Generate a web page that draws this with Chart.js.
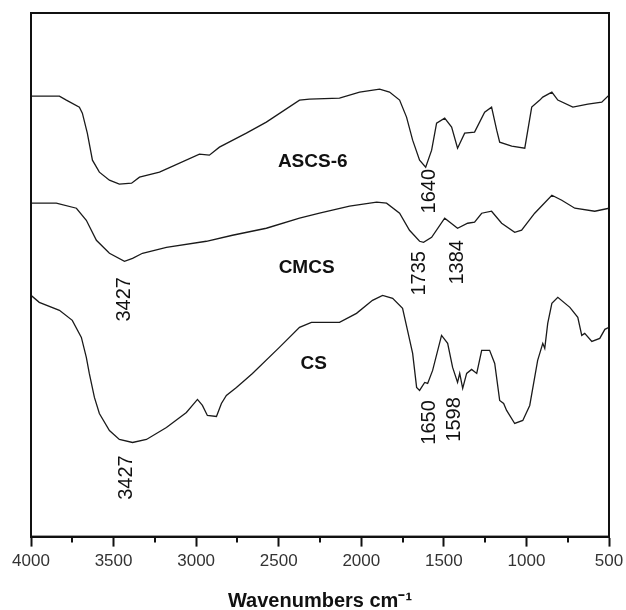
<!DOCTYPE html>
<html>
<head>
<meta charset="utf-8">
<script src="https://cdn.jsdelivr.net/npm/chart.js@4.4.1/dist/chart.umd.min.js"></script>
<style>
  body { margin: 0; background: #fff; }
  canvas { display: block; }
</style>
</head>
<body>
<canvas id="ftir" width="626" height="610"></canvas>
<script>
// wavenumbers (cm-1) and transmittance (a.u.)
let ascsWave = [4000, 3828, 3786, 3707, 3689, 3659, 3628, 3586, 3525, 3465, 3391, 3343, 3222, 2980, 2920, 2859, 2696, 2575, 2374, 2314, 2132, 2010, 1889, 1829, 1768, 1726, 1689, 1647, 1610, 1574, 1544, 1495, 1453, 1417, 1374, 1314, 1253, 1211, 1180, 1162, 1089, 1010, 968, 919, 901, 846, 810, 719, 628, 544, 500];
let ascsT = [440, 440, 436, 429, 423, 403, 376, 364, 356, 352, 353, 359, 364, 382, 381, 389, 403, 414, 436, 437, 438, 444, 447, 444, 436, 419, 396, 376, 369, 386, 413, 418, 409, 388, 403, 404, 424, 429, 406, 394, 390, 388, 429, 436, 439, 444, 436, 429, 432, 434, 441];

let cmcsWave = [4000, 3847, 3725, 3665, 3604, 3525, 3434, 3385, 3325, 3180, 2938, 2780, 2575, 2374, 2253, 2071, 1907, 1847, 1768, 1708, 1647, 1623, 1574, 1495, 1417, 1356, 1314, 1271, 1211, 1150, 1071, 1029, 950, 846, 786, 707, 586, 500];
let cmcsT = [333, 333, 328, 316, 296, 283, 275, 278, 283, 289, 295, 301, 308, 318, 323, 330, 334, 333, 323, 306, 295, 294, 299, 318, 308, 313, 314, 323, 325, 313, 304, 306, 323, 341, 336, 328, 325, 328];

let csWave = [4000, 3950, 3828, 3750, 3695, 3665, 3647, 3616, 3586, 3525, 3465, 3385, 3301, 3180, 3059, 2992, 2962, 2932, 2877, 2847, 2817, 2756, 2659, 2496, 2374, 2302, 2132, 2029, 1932, 1871, 1810, 1750, 1720, 1689, 1665, 1647, 1616, 1598, 1568, 1514, 1477, 1447, 1417, 1404, 1386, 1362, 1332, 1301, 1271, 1223, 1192, 1162, 1138, 1120, 1071, 1022, 980, 932, 901, 889, 871, 846, 810, 737, 689, 665, 647, 604, 556, 525, 500];
let csT = [241, 234, 226, 216, 199, 179, 163, 139, 123, 106, 97, 94, 97, 109, 124, 137, 131, 121, 120, 133, 141, 149, 163, 189, 209, 214, 214, 223, 236, 241, 238, 228, 206, 183, 149, 146, 154, 153, 166, 201, 193, 169, 154, 163, 148, 163, 167, 163, 186, 186, 173, 136, 133, 126, 113, 116, 131, 176, 193, 188, 213, 233, 239, 229, 219, 201, 203, 195, 198, 207, 209];

let xTicks = [4000, 3500, 3000, 2500, 2000, 1500, 1000, 500];
let xMinorTicks = [3750, 3250, 2750, 2250, 1750, 1250, 750];

// text placed on the plot: [text, wavenumber, value, vertical, bold]
let notes = [
	['ASCS-6', 2294, 374, false, true],
	['CMCS', 2331, 269, false, true],
	['CS', 2288, 173, false, true],
	['1640', 1586, 345, true, false],
	['3427', 3434, 237, true, false],
	['1735', 1647, 263, true, false],
	['1384', 1417, 274, true, false],
	['3427', 3422, 59, true, false],
	['1650', 1586, 114, true, false],
	['1598', 1435, 117, true, false]
];

function toPoints(wave, t){
	return wave.map((w, i) => ({x: w, y: t[i]}));
}

function lineSet(label, wave, t){
	return {
		label: label,
		data: toPoints(wave, t),
		borderColor: '#1a1a1a',
		borderWidth: 1.3,
		pointRadius: 0,
		tension: 0,
		fill: false
	};
}

let extras = {
	id: 'extras',
	afterDraw(chart){
		let ctx = chart.ctx;
		let area = chart.chartArea;
		let xs = chart.scales.x;
		let ys = chart.scales.y;
		ctx.save();
		// box round the plot
		ctx.strokeStyle = '#111';
		ctx.lineWidth = 2;
		ctx.strokeRect(area.left, area.top, area.right - area.left, area.bottom - area.top);
		// short minor ticks
		xMinorTicks.forEach(w => {
			let px = Math.round(xs.getPixelForValue(w));
			ctx.beginPath();
			ctx.moveTo(px, area.bottom);
			ctx.lineTo(px, area.bottom + 6);
			ctx.stroke();
		});
		// labels
		ctx.fillStyle = '#111';
		ctx.textAlign = 'center';
		ctx.textBaseline = 'middle';
		notes.forEach(n => {
			let px = xs.getPixelForValue(n[1]);
			let py = ys.getPixelForValue(n[2]);
			ctx.font = (n[4] ? 'bold 19px' : '20px') + ' "Liberation Sans", Arial, sans-serif';
			ctx.save();
			ctx.translate(px, py);
			if (n[3]) ctx.rotate(-Math.PI / 2);
			ctx.fillText(n[0], 0, 0);
			ctx.restore();
		});
		ctx.restore();
	}
};

new Chart(document.getElementById('ftir').getContext('2d'), {
	type: 'line',
	data: {
		datasets: [
			lineSet('ASCS-6', ascsWave, ascsT),
			lineSet('CMCS', cmcsWave, cmcsT),
			lineSet('CS', csWave, csT)
		]
	},
	options: {
		responsive: false,
		animation: false,
		layout: { padding: { left: 31, right: 17, top: 13, bottom: 0 } },
		plugins: {
			legend: { display: false },
			tooltip: { enabled: false }
		},
		scales: {
			x: {
				type: 'linear',
				reverse: true,
				min: 500,
				max: 4000,
				afterBuildTicks: axis => { axis.ticks = xTicks.map(v => ({value: v})); },
				afterFit: axis => { axis.paddingLeft = 0; axis.paddingRight = 0; },
				grid: { drawOnChartArea: false, tickLength: 10, tickWidth: 2, tickColor: '#111' },
				border: { display: true, color: '#111', width: 2 },
				ticks: {
					color: '#333',
					font: { family: '"Liberation Sans", Arial, sans-serif', size: 17 },
					padding: 5,
					maxRotation: 0,
					autoSkip: false,
					callback: value => String(value)
				},
				title: {
					display: true,
					text: 'Wavenumbers cm⁻¹',
					color: '#111',
					font: { family: '"Liberation Sans", Arial, sans-serif', size: 20, weight: 'bold', lineHeight: '18px' },
					padding: { top: 15, bottom: 0 }
				}
			},
			y: {
				display: false,
				min: 0,
				max: 523
			}
		}
	},
	plugins: [extras]
});
</script>
</body>
</html>
